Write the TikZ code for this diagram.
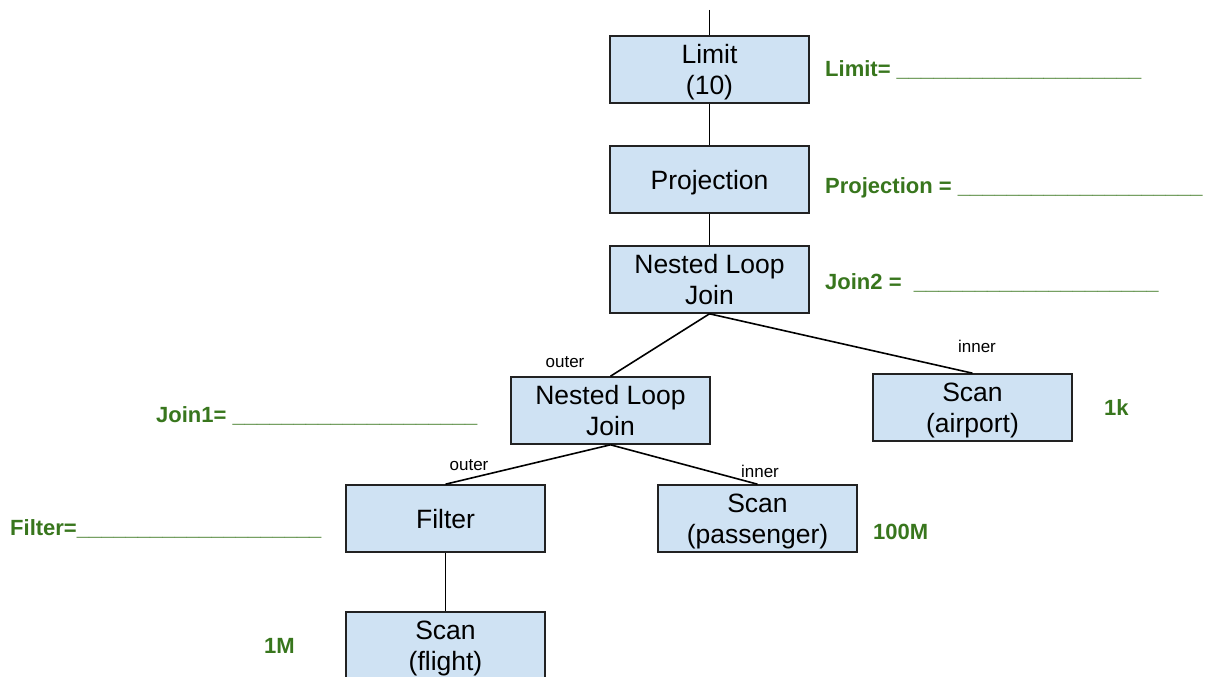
\documentclass[tikz,border=0pt]{standalone}
\usepackage{fontspec}
\setmainfont{Liberation Sans}
\definecolor{boxfill}{HTML}{CFE2F3}
\definecolor{boxline}{HTML}{222222}
\definecolor{annotgreen}{HTML}{38761D}
\begin{document}
\begin{tikzpicture}[x=1pt,y=-1pt,
  opbox/.style={draw=boxline, line width=1.6pt, fill=boxfill, minimum width=199pt,
    minimum height=67pt, inner sep=0pt, align=center, text depth=0pt,
    font=\fontsize{26.5}{31.5}\selectfont},
  edge/.style={draw=black, line width=1.6pt},
  rolelabel/.style={font=\fontsize{17}{20}\selectfont, inner sep=0pt},
  annot/.style={text=annotgreen, font=\bfseries\fontsize{22}{26}\selectfont,
    anchor=base west, inner sep=0pt}]
\useasboundingbox (0,0) rectangle (1205,677);
% operator boxes
\node[opbox] (limit) at (709.5,69.5) {Limit\\(10)};
\node[opbox] (proj) at (709.5,179.5) {Projection};
\node[opbox] (nlj2) at (709.5,279.5) {Nested Loop\\Join};
\node[opbox] (nlj1) at (610.5,410.5) {Nested Loop\\Join};
\node[opbox] (airport) at (972.5,407.5) {Scan\\(airport)};
\node[opbox] (filter) at (445.5,518.5) {Filter};
\node[opbox] (passenger) at (757.5,518.5) {Scan\\(passenger)};
\node[opbox] (flight) at (445.5,645.5) {Scan\\(flight)};
% connectors
\coordinate (top) at (709.5,10);
\draw[edge] (top) -- (limit.north);
\draw[edge] (limit) -- (proj);
\draw[edge] (proj) -- (nlj2);
\draw[edge] (nlj2.south) -- (nlj1.north);
\draw[edge] (nlj2.south) -- (airport.north);
\draw[edge] (nlj1.south) -- (filter.north);
\draw[edge] (nlj1.south) -- (passenger.north);
\draw[edge] (filter) -- (flight);
% role labels
\node[rolelabel] (o2) at (565,362) {outer};
\node[rolelabel] (i2) at (977,346) {inner};
\node[rolelabel] (o1) at (469,465) {outer};
\node[rolelabel] (i1) at (760,471) {inner};
% annotations
\node[annot] (alimit) at (825,77) {Limit= \_\_\_\_\_\_\_\_\_\_\_\_\_\_\_\_\_\_\_\_};
\node[annot] (aproj) at (825,193) {Projection = \_\_\_\_\_\_\_\_\_\_\_\_\_\_\_\_\_\_\_\_};
\node[annot] (ajoin2) at (825,289) {Join2 =~~\_\_\_\_\_\_\_\_\_\_\_\_\_\_\_\_\_\_\_\_};
\node[annot] (ajoin1) at (156,422) {Join1= \_\_\_\_\_\_\_\_\_\_\_\_\_\_\_\_\_\_\_\_};
\node[annot] (afilter) at (10,535) {Filter=\_\_\_\_\_\_\_\_\_\_\_\_\_\_\_\_\_\_\_\_};
\node[annot] (a1k) at (1104,415) {1k};
\node[annot] (a100m) at (873,539) {100M};
\node[annot] (a1m) at (264,653) {1M};
\end{tikzpicture}
\end{document}
